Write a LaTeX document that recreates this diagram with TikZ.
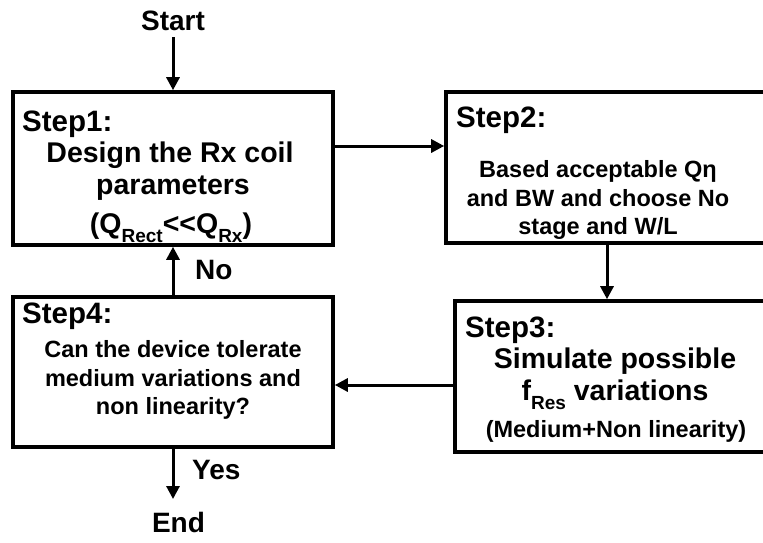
\documentclass[tikz,border=0pt]{standalone}
\usepackage{fontspec}
\setmainfont{Liberation Sans}
\usetikzlibrary{arrows.meta}
\newcommand\mysub[1]{\raisebox{-0.32em}{\fontsize{19}{19}\selectfont #1}}
\tikzset{
  box/.style={draw, line width=3.6pt, rectangle, inner sep=0pt},
  steplbl/.style={anchor=base west, inner sep=0pt, font=\fontsize{29.5}{29.5}\selectfont\bfseries},
  bigline/.style={anchor=base, inner sep=0pt, font=\fontsize{28.5}{28.5}\selectfont\bfseries},
  smline/.style={anchor=base, inner sep=0pt, font=\fontsize{23.5}{23.5}\selectfont\bfseries},
  lbl/.style={anchor=base, inner sep=0pt, font=\fontsize{28}{28}\selectfont\bfseries},
  arr/.style={line width=3pt, -{Triangle[length=13pt,width=13pt]}},
}
\begin{document}
\begin{tikzpicture}[x=1pt,y=-1pt]
\useasboundingbox (0,0) rectangle (763,542);
\clip (0,0) rectangle (763,542);
\fill[white] (0,0) rectangle (763,542);

% boxes
\node[box, minimum width=320pt, minimum height=153pt] (b1) at (173,168.5) {};
\node[box, minimum width=334pt, minimum height=151pt] (b2) at (613,167.5) {};
\node[box, minimum width=335pt, minimum height=151pt] (b3) at (622.5,376.5) {};
\node[box, minimum width=320pt, minimum height=150pt] (b4) at (173,372) {};

% texts
\node[lbl] (start) at (173,30) {Start};
\node[lbl] (endt) at (178.5,532) {End};
\node[lbl, anchor=base west] (no) at (195,279) {No};
\node[lbl, anchor=base west] (yes) at (192,479) {Yes};

\node[steplbl] (s1) at (22,131) {Step1:};
\node[bigline] (t11) at (170,162) {Design the Rx coil};
\node[bigline] (t12) at (173,194) {parameters};
\node[bigline] (t13) at (171,233) {(Q\mysub{Rect}<\kern0pt<Q\mysub{Rx})};

\node[steplbl] (s2) at (456,127) {Step2:};
\node[smline] (t21) at (598,177) {Based acceptable Qη};
\node[smline] (t22) at (598,206) {and BW and choose No};
\node[smline] (t23) at (598,234) {stage and W/L};

\node[steplbl] (s3) at (465,337) {Step3:};
\node[bigline] (t31) at (615,368) {Simulate possible};
\node[bigline] (t32) at (615,400) {f\mysub{Res} variations};
\node[smline] (t33) at (616,437) {(Medium+Non linearity)};

\node[steplbl] (s4) at (22,323) {Step4:};
\node[smline] (t41) at (173,357) {Can the device tolerate};
\node[smline] (t42) at (173,386) {medium variations and};
\node[smline] (t43) at (173,414) {non linearity?};

% connectors
\coordinate (r12) at (0,146);
\coordinate (c23) at (607,0);
\coordinate (r34) at (0,385);
\coordinate (endtip) at (173,499);

\draw[arr, shorten <=7pt] (start.south) -- (b1.north);
\draw[arr] (b1.east |- r12) -- (b2.west |- r12);
\draw[arr] (b2.south -| c23) -- (b3.north -| c23);
\draw[arr] (b3.west |- r34) -- (b4.east |- r34);
\draw[arr] (b4.north) -- (b1.south);
\draw[arr] (b4.south) -- (endtip);
\end{tikzpicture}
\end{document}
